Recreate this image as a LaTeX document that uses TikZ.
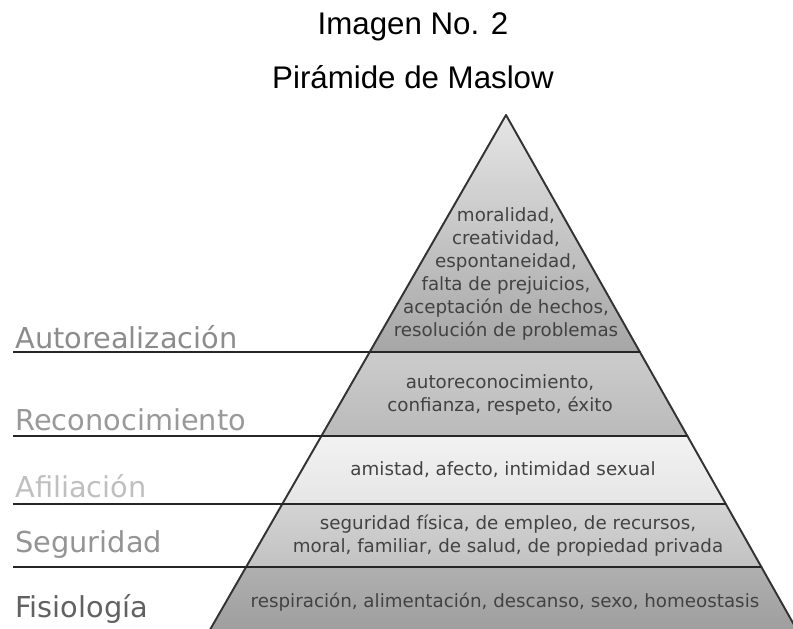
\documentclass[tikz,border=0pt]{standalone}
\usepackage{fontspec}
\setmainfont{DejaVu Sans}
\newfontfamily\titlefont{Liberation Sans}
\usetikzlibrary{positioning}

\begin{document}
\begin{tikzpicture}[
  x=0.02cm, y=-0.02cm,
  band/.style={draw=black!80, line width=1.1pt, line join=round},
  sep/.style={draw=black!85, line width=1.3pt},
  level/.style={anchor=base west, inner sep=0pt, font=\fontsize{16.4}{18}\selectfont},
  need/.style={align=center, inner sep=0pt, text=black!74, font=\fontsize{10.4}{13.15}\selectfont},
  heading/.style={anchor=base, inner sep=0pt, font=\titlefont\fontsize{17.8}{20}\selectfont}
]
\useasboundingbox (0,0) rectangle (793,628);
\clip (0,0) rectangle (793,628);

% pyramid corners
\coordinate (apex) at (506,115);
\coordinate (l1) at (369.7,352); \coordinate (r1) at (639.9,352);
\coordinate (l2) at (321.4,436); \coordinate (r2) at (687.4,436);
\coordinate (l3) at (282.3,504); \coordinate (r3) at (725.8,504);
\coordinate (l4) at (246.1,567); \coordinate (r4) at (761.4,567);
\coordinate (l5) at (204.1,640); \coordinate (r5) at (802.6,640);

% bands
\path[band, top color=black!10, bottom color=black!35] (apex) -- (l1) -- (r1) -- cycle;
\path[band, top color=black!20, bottom color=black!27] (l1) -- (l2) -- (r2) -- (r1) -- cycle;
\path[band, top color=black!5, bottom color=black!10] (l2) -- (l3) -- (r3) -- (r2) -- cycle;
\path[band, top color=black!17, bottom color=black!24] (l3) -- (l4) -- (r4) -- (r3) -- cycle;
\path[band, top color=black!31, bottom color=black!39] (l4) -- (l5) -- (r5) -- (r4) -- cycle;

% level lines
\coordinate (s1) at (13,352);
\coordinate (s2) at (13,436);
\coordinate (s3) at (13,504);
\coordinate (s4) at (13,567);
\draw[sep] (s1) -- (r1);
\draw[sep] (s2) -- (r2);
\draw[sep] (s3) -- (r3);
\draw[sep] (s4) -- (r4);

% titles
\node[heading] (title) at (413,35) {Imagen No. 2};
\node[heading] (subtitle) at (413,89) {Pirámide de Maslow};

% level names
\node[level, text=black!45] (autorealizacion) at (15,348) {Autorealización};
\node[level, text=black!40] (reconocimiento) at (15,430) {Reconocimiento};
\node[level, text=black!25] (afiliacion) at (15,497) {Afiliación};
\node[level, text=black!42] (seguridad) at (15,552) {Seguridad};
\node[level, text=black!62] (fisiologia) at (15,617) {Fisiología};

% needs
\node[need] (n1) at (506,274) {moralidad,\\creatividad,\\espontaneidad,\\falta de prejuicios,\\aceptación de hechos,\\resolución de problemas};
\node[need] (n2) at (500,395) {autoreconocimiento,\\confianza, respeto, éxito};
\node[need] (n3) at (503,470) {amistad, afecto, intimidad sexual};
\node[need] (n4) at (508,536) {seguridad física, de empleo, de recursos,\\moral, familiar, de salud, de propiedad privada};
\node[need] (n5) at (505,602) {respiración, alimentación, descanso, sexo, homeostasis};
\end{tikzpicture}
\end{document}
